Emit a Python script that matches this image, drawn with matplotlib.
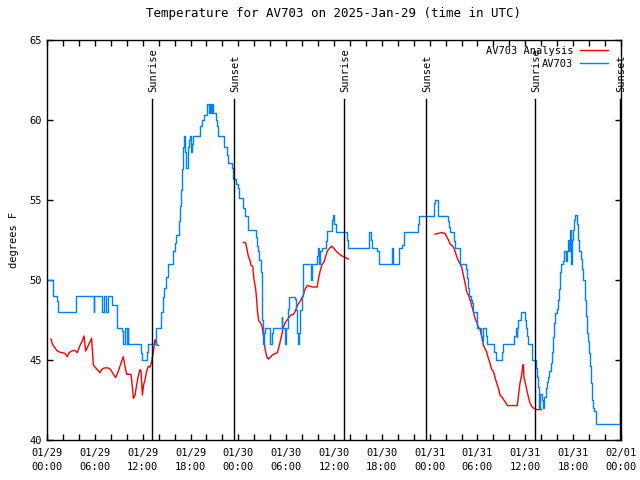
import numpy as np
import matplotlib.pyplot as plt

# hours since 2025-01-29 00:00 UTC
obs_hours = [0.0, 0.8, 1.2, 1.4, 3.6, 5.85, 5.95, 6.94, 7.1, 7.36, 7.6, 8.2, 8.8,
             9.37, 9.58, 9.75, 10.0, 10.1, 10.2, 11.75, 11.87, 12.5, 12.7, 13.67,
             14.26, 14.5, 14.68, 14.9, 15.14, 15.76, 15.85, 16.06, 16.18, 16.56,
             16.68, 16.81, 16.98, 17.1, 17.23, 17.35, 17.44, 17.73, 17.85, 17.98,
             18.1, 18.23, 18.36, 19.19, 19.4, 19.74, 20.11, 20.3, 20.4, 20.55,
             20.65, 20.86, 21.16, 21.3, 21.49, 22.2, 22.62, 22.75, 23.16, 23.37,
             23.71, 23.92, 24.08, 24.63, 24.84, 25.26, 26.22, 26.38, 26.51, 26.64,
             26.8, 26.93, 27.01, 27.05, 27.14, 27.26, 27.35, 27.97, 28.18, 28.31,
             29.44, 29.52, 29.85, 30.0, 30.19, 30.4, 31.11, 31.23, 31.32, 31.45,
             31.61, 31.74, 31.95, 32.07, 32.15, 33.11, 33.3, 33.83, 33.95, 34.1,
             34.24, 34.46, 35.0, 35.16, 35.71, 35.84, 36.0, 36.25, 37.67, 37.8,
             40.39, 40.6, 40.73, 41.44, 41.65, 43.32, 43.45, 44.15, 44.49, 44.78,
             46.58, 46.71, 48.54, 48.67, 49.05, 50.26, 50.43, 50.55, 51.05, 51.22,
             51.81, 52.52, 52.65, 52.85, 52.98, 53.15, 53.27, 53.48, 53.9, 54.4,
             54.6, 54.73, 55.07, 55.23, 56.11, 56.28, 57.11, 57.24, 58.62, 58.79,
             58.9, 59.0, 59.12, 59.46, 59.96, 60.09, 60.26, 60.38, 60.8, 61.3,
             61.5, 61.62, 61.76, 61.84, 62.09, 62.26, 62.38, 62.55, 62.68, 62.8,
             63.0, 63.18, 63.31, 63.43, 63.6, 63.72, 63.94, 64.06, 64.22, 64.35,
             64.48, 64.69, 64.85, 65.1, 65.23, 65.4, 65.52, 65.6, 65.73, 65.86,
             65.94, 66.1, 66.23, 66.52, 66.65, 66.77, 66.94, 67.07, 67.28, 67.49,
             67.61, 67.74, 67.9, 68.03, 68.11, 68.24, 68.36, 68.49, 68.61, 68.86,
             69.03, 71.88, 72.0]
obs_temps = [50.0, 49.0, 48.7, 48.0, 49.0, 48.0, 49.0, 48.0, 49.0, 48.0, 49.0, 48.4, 47.0,
             46.8, 46.0, 47.0, 46.0, 47.0, 46.0, 45.4, 45.0, 45.5, 46.0, 47.0,
             48.0, 48.9, 49.5, 50.2, 51.0, 51.25, 51.8, 52.3, 52.8, 53.7,
             54.6, 55.6, 56.9, 58.3, 59.0, 58.0, 57.0, 58.3, 58.7, 59.0,
             58.0, 58.5, 59.0, 59.6, 60.0, 60.3, 61.0, 60.4, 61.0, 60.4,
             61.0, 60.4, 60.0, 59.6, 59.0, 58.3, 57.8, 57.3, 57.0, 56.3,
             56.0, 55.7, 55.1, 54.5, 54.0, 53.1, 52.7, 52.1, 51.8, 51.25,
             50.5, 48.95, 47.5, 46.7, 46.0, 46.7, 47.0, 46.0, 46.7, 47.0,
             47.7, 47.0, 46.0, 47.0, 48.2, 48.95, 48.8, 48.1, 46.7, 46.0,
             46.7, 48.1, 49.0, 50.2, 51.0, 50.0, 51.0, 51.5, 52.0, 51.0,
             51.8, 52.0, 52.4, 53.05, 53.75, 54.05, 53.5, 53.0, 52.5, 52.0,
             53.0, 52.5, 52.0, 51.8, 51.0, 52.0, 51.0, 52.0, 52.2, 53.0,
             53.5, 54.0, 54.8, 55.0, 54.0, 53.7, 53.3, 53.0, 52.4, 52.0,
             51.0, 50.7, 50.1, 49.5, 49.0, 48.75, 48.55, 48.0, 47.0, 46.5,
             46.2, 47.0, 46.5, 46.0, 45.5, 45.0, 45.5, 46.0, 46.5, 47.0,
             46.4, 47.0, 47.5, 48.0, 47.5, 47.0, 46.5, 46.0, 45.0, 44.5,
             43.95, 43.3, 42.0, 42.9, 42.5, 42.0, 42.7, 43.25, 43.65, 43.95,
             44.3, 44.8, 45.5, 46.45, 47.3, 47.9, 48.2, 48.75, 49.4, 50.5,
             51.0, 51.2, 51.8, 51.2, 51.8, 52.5, 51.8, 53.1, 51.0, 52.5,
             53.1, 53.75, 54.05, 53.5, 52.5, 51.8, 51.3, 50.7, 50.0, 48.75,
             47.75, 46.7, 46.15, 45.4, 44.6, 43.55, 42.5, 42.0, 41.8, 41.0,
             41.0, 41.8, 41.8]

ana_hours1 = [0.5, 0.67, 0.92, 1.21, 1.51, 1.92, 2.26, 2.55, 2.76, 3.09, 3.51, 3.8,
              4.14, 4.43, 4.64, 4.85, 5.18, 5.6, 5.81, 6.02, 6.31, 6.65, 6.86, 7.19,
              7.69, 7.99, 8.32, 8.61, 8.95, 9.28, 9.57, 9.78, 9.99, 10.54, 10.7,
              10.83, 11.04, 11.25, 11.45, 11.67, 11.79, 11.96, 12.12, 12.29, 12.5,
              12.71, 12.92, 13.13, 13.34, 13.55, 13.67, 13.8, 13.96]
ana_temps1 = [46.3, 46.0, 45.8, 45.6, 45.5, 45.45, 45.4, 45.2, 45.45, 45.55, 45.6, 45.45,
              45.9, 46.2, 46.5, 45.55, 45.9, 46.35, 44.7, 44.55, 44.4, 44.2, 44.4, 44.5,
              44.5, 44.4, 44.1, 43.9, 44.3, 44.8, 45.2, 44.6, 44.1, 44.1, 43.35,
              42.6, 42.8, 43.45, 44.0, 44.4, 44.3, 42.8, 43.45, 43.75, 44.3,
              44.6, 44.55, 44.9, 45.5, 46.25, 46.1, 45.95, 45.9]

ana_hours2 = [24.63, 24.92, 25.05, 25.26, 25.47, 25.59, 25.8, 25.97, 26.18, 26.3, 26.43,
              26.55, 26.8, 26.93, 27.14, 27.35, 27.56, 27.76, 27.97, 28.27, 28.6, 28.89,
              29.14, 29.44, 29.64, 29.85, 30.06, 30.27, 30.61, 30.9, 31.11, 31.32, 31.53,
              31.74, 31.95, 32.15, 32.36, 32.66, 32.99, 33.32, 33.61, 33.9, 34.03, 34.24,
              34.49, 34.74, 34.95, 35.16, 35.49, 35.71, 35.92, 36.25, 36.55, 36.96, 37.38,
              37.8]
ana_temps2 = [52.35, 52.3, 52.0, 51.45, 51.2, 50.9, 50.85, 50.0, 49.4, 48.75, 47.9,
              47.45, 47.3, 47.2, 46.55, 45.7, 45.2, 45.05, 45.15, 45.3, 45.4, 45.45,
              45.9, 46.55, 47.0, 47.3, 47.45, 47.6, 47.8, 47.85, 48.0, 48.3, 48.5,
              48.65, 48.85, 49.05, 49.4, 49.65, 49.6, 49.55, 49.55, 49.55, 50.0, 50.5,
              50.95, 51.1, 51.45, 51.8, 52.0, 52.1, 52.0, 51.8, 51.65, 51.5, 51.4,
              51.3]

ana_hours3 = [48.67, 49.09, 49.51, 49.92, 50.13, 50.34, 50.55, 50.76, 50.97, 51.18,
              51.39, 51.6, 51.81, 52.02, 52.14, 52.31, 52.52, 52.65, 52.85, 53.06, 53.27,
              53.48, 53.69, 53.9, 54.11, 54.32, 54.53, 54.73, 54.94, 55.15, 55.36, 55.57,
              55.78, 55.99, 56.2, 56.41, 56.62, 56.82, 57.04, 57.24, 57.45, 57.74, 58.99,
              59.12, 59.33, 59.54, 59.67, 59.75, 59.83, 59.96, 60.17, 60.38, 60.59, 60.8,
              61.0, 61.21, 61.42, 61.75, 62.05]
ana_temps3 = [52.85, 52.9, 52.95, 52.9, 52.7, 52.5, 52.25, 52.15, 52.05, 51.8,
              51.45, 51.2, 51.0, 50.8, 50.5, 50.1, 49.6, 49.25, 49.05, 48.75, 48.4,
              48.0, 47.6, 47.35, 47.05, 46.9, 46.45, 45.95, 45.7, 45.5, 45.1, 44.8,
              44.4, 44.3, 43.9, 43.55, 43.25, 42.8, 42.7, 42.55, 42.4, 42.15, 42.15,
              42.7, 43.55, 44.05, 44.6, 44.7, 43.9, 43.65, 43.15, 42.7, 42.3, 42.1,
              42.0, 41.95, 41.9, 41.9, 41.9]

sun_hours = [13.2, 23.45, 37.25, 47.6, 61.25, 71.9]
sun_labels = ["Sunrise", "Sunset", "Sunrise", "Sunset", "Sunrise", "Sunset"]

tick_hours = list(range(0, 73, 6))
tick_labels = ["01/29\n00:00", "01/29\n06:00", "01/29\n12:00", "01/29\n18:00",
               "01/30\n00:00", "01/30\n06:00", "01/30\n12:00", "01/30\n18:00",
               "01/31\n00:00", "01/31\n06:00", "01/31\n12:00", "01/31\n18:00",
               "02/01\n00:00"]

plt.rcParams['font.family'] = 'DejaVu Sans Mono'
plt.rcParams['font.size'] = 7.5

fig = plt.figure(figsize=(6.4, 4.8), dpi=100)
ax = fig.add_axes([47 / 640, 1 - 440 / 480, 574 / 640, 400.5 / 480])

ana_color = '#ff0000'
obs_color = '#0080ff'
ax.plot(ana_hours1, ana_temps1, color=ana_color, lw=1.0, label='AV703 Analysis')
ax.plot(ana_hours2, ana_temps2, color=ana_color, lw=1.0)
ax.plot(ana_hours3, ana_temps3, color=ana_color, lw=1.0)
ax.step(obs_hours, obs_temps, where='post', color=obs_color, lw=1.0, label='AV703')

for h, lab in zip(sun_hours, sun_labels):
    ax.plot([h, h], [40, 61.3], color='black', lw=1.0)
    ax.text(h + 0.15, 61.75, lab, rotation=90, ha='center', va='bottom')

ax.set_xlim(0, 72)
ax.set_ylim(40, 65)
ax.set_xticks(tick_hours)
ax.set_xticklabels(tick_labels, linespacing=1.5)
ax.set_xticks(range(0, 73, 2), minor=True)
ax.set_yticks(range(40, 66, 5))
ax.tick_params(which='both', direction='in', top=True, right=True, length=4, width=1)
ax.tick_params(axis='x', pad=6)
ax.set_ylabel('degrees F', labelpad=8)
ax.set_title('Temperature for AV703 on 2025-Jan-29 (time in UTC)', pad=16)
for s in ax.spines.values():
    s.set_linewidth(1.0)

ax.legend(loc='upper right', bbox_to_anchor=(0.9885, 1.0), markerfirst=False,
          frameon=False, handlelength=2.7, handletextpad=0.67, labelspacing=0.3,
          borderaxespad=0.2)

fig.savefig('out.png', dpi=100)
